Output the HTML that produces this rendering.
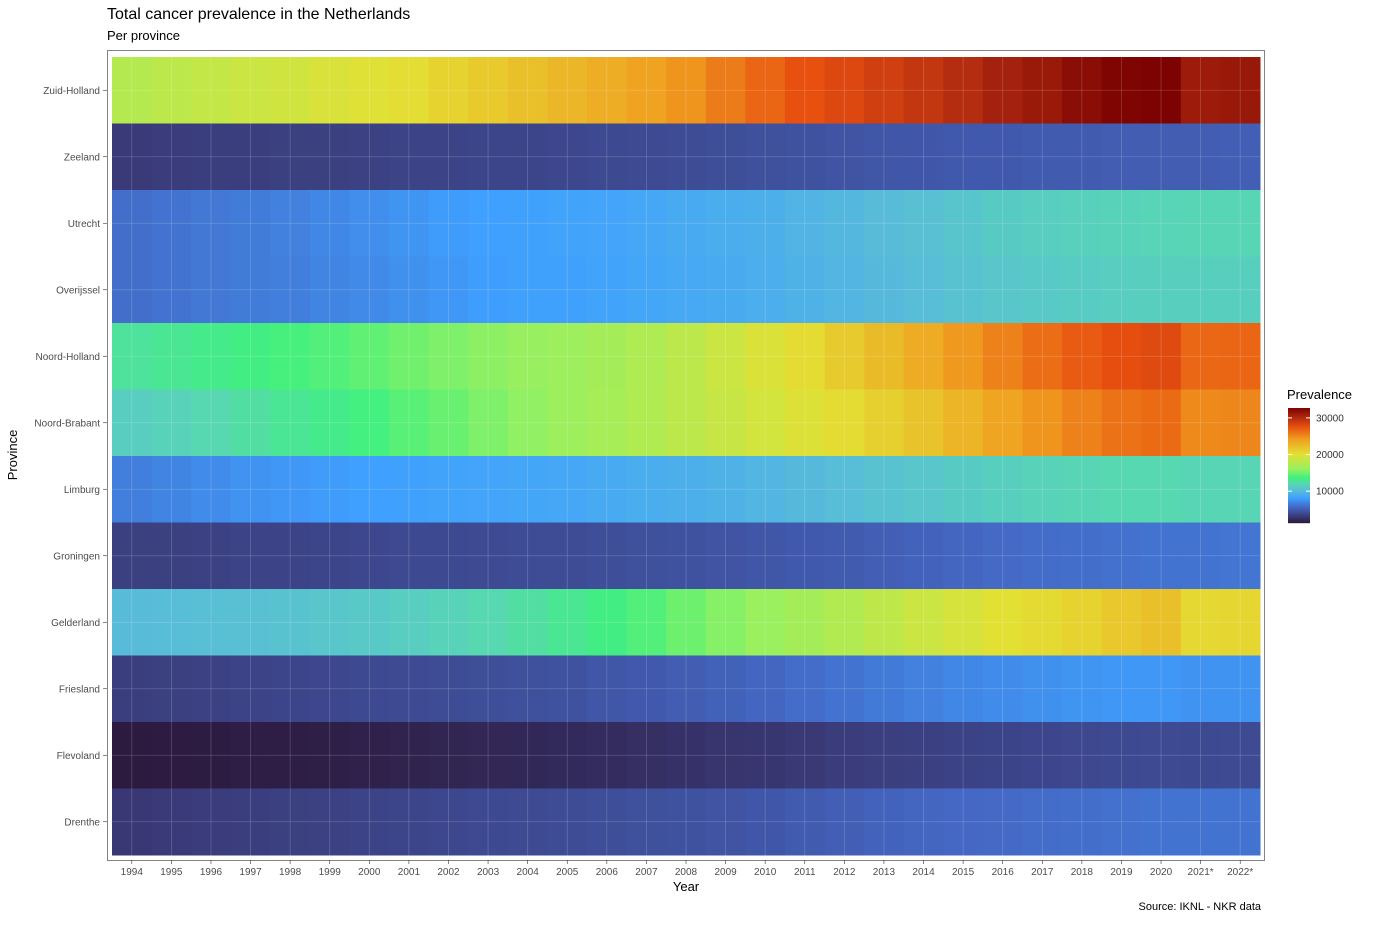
<!DOCTYPE html>
<html><head><meta charset="utf-8">
<style>
body{margin:0;background:#fff;font-family:"Liberation Sans",sans-serif;}
svg text{font-family:"Liberation Sans",sans-serif;}
</style></head>
<body>
<svg id="chart" width="1375" height="920" xmlns="http://www.w3.org/2000/svg">
<text x="107" y="19" font-size="16" fill="#000">Total cancer prevalence in the Netherlands</text>
<text x="107" y="40" font-size="13" fill="#000">Per province</text>
<g id="cells"></g>
<g id="grid"></g>
<rect x="107.5" y="50.5" width="1157" height="810" fill="none" stroke="#333" stroke-width="0.6"/>
<g id="xaxis"></g>
<g id="yaxis"></g>
<text x="686" y="891" font-size="13" text-anchor="middle">Year</text>
<text transform="translate(17,455) rotate(-90)" font-size="13" text-anchor="middle">Province</text>
<text x="1287" y="399" font-size="13">Prevalence</text>
<g id="legend"></g>
<text x="1261" y="910" font-size="11" text-anchor="end">Source: IKNL - NKR data</text>
</svg>
<script>
const years=["1994","1995","1996","1997","1998","1999","2000","2001","2002","2003","2004","2005","2006","2007","2008","2009","2010","2011","2012","2013","2014","2015","2016","2017","2018","2019","2020","2021*","2022*"];
const provinces=["Zuid-Holland","Zeeland","Utrecht","Overijssel","Noord-Holland","Noord-Brabant","Limburg","Groningen","Gelderland","Friesland","Flevoland","Drenthe"];
const zuidHolland=[17500,17900,18300,18700,19000,19400,19800,20200,20800,21400,22000,22600,23200,23800,24500,25600,26600,27500,28000,28600,29200,29800,30600,31100,31900,32500,32600,31000,31200];
const zeeland=[3000,3100,3200,3200,3300,3300,3400,3500,3500,3600,3600,3700,3800,3900,4000,4100,4200,4300,4400,4500,4600,4700,4700,4800,4800,4900,4900,4900,5000];
const utrecht=[5800,6000,6200,6400,6600,6900,7200,7500,7800,8000,8100,8200,8300,8500,8700,8900,9100,9400,9700,10000,10300,10600,11000,11200,11400,11600,11700,11800,11800];
const overijssel=[5800,6000,6200,6400,6500,6800,7000,7300,7600,7900,8100,8100,8200,8400,8600,8800,9000,9300,9500,9800,10100,10400,10700,10900,11100,11200,11300,11300,11300];
const noordHolland=[12600,12900,13200,13400,13700,14000,14400,14900,15300,15700,16000,16300,16700,17200,17900,18700,19500,20300,21300,22300,23300,24300,25300,26200,27000,27600,27900,26500,26600];
const noordBrabant=[11200,11600,12000,12400,12800,13200,13600,14200,14700,15300,15800,16300,16800,17300,17900,18500,19100,19700,20300,21000,21800,22700,23700,24500,25300,26000,26300,25000,25100];
const limburg=[6500,6800,7100,7400,7600,7800,8000,8100,8200,8300,8400,8500,8700,8900,9100,9300,9500,9800,10100,10400,10700,11000,11300,11600,11800,12000,12000,11800,11800];
const groningen=[3300,3300,3400,3500,3500,3600,3700,3800,3800,3900,4000,4000,4100,4200,4300,4400,4500,4700,4800,5000,5200,5400,5600,5700,5800,5900,6000,6000,6100];
const gelderland=[10000,10100,10200,10300,10500,10700,10900,11200,11600,12000,12400,12900,13400,14000,14800,15500,16100,16700,17400,18000,18700,19300,20000,20400,20800,21500,22000,20500,20600];
const friesland=[3200,3300,3400,3500,3600,3700,3800,3900,4000,4100,4200,4300,4500,4700,4900,5100,5400,5700,6000,6300,6600,6900,7100,7300,7500,7600,7600,7400,7400];
const flevoland=[1300,1350,1400,1450,1500,1550,1650,1750,1850,1950,2050,2150,2250,2400,2550,2700,2800,2950,3100,3250,3350,3450,3550,3650,3750,3850,3900,3850,3900];
const drenthe=[2900,3000,3100,3200,3300,3400,3500,3600,3700,3800,3900,4000,4100,4200,4300,4400,4600,4800,5000,5200,5400,5500,5600,5700,5800,5900,6000,6000,6000];
const legendTicks=[10000,20000,30000];
const series=[zuidHolland,zeeland,utrecht,overijssel,noordHolland,noordBrabant,limburg,groningen,gelderland,friesland,flevoland,drenthe];

const stopVals=[1000,3000,5500,8000,10000,12000,13500,16000,20000,24000,27500,30000,32800];
const stopCols=["#2a1535","#3a3a78","#4468c4","#3fa0ff","#58bcd8","#58d8b0","#40f080","#98f060","#e3e034","#f0a020","#e85010","#b02a10","#780000"];

const NS="http://www.w3.org/2000/svg";
const vMin=1300,vMax=32700;
const px0=112,px1=1260,py0=57,py1=855;
const cw=(px1-px0)/years.length, ch=(py1-py0)/provinces.length;
const xScale=i=>px0+i*cw;
const yScale=j=>py0+j*ch;
const hex=h=>[1,3,5].map(k=>parseInt(h.substr(k,2),16));
function color(v){
 if(v<=stopVals[0])return stopCols[0];
 for(let k=1;k<stopVals.length;k++){if(v<=stopVals[k]){const t=(v-stopVals[k-1])/(stopVals[k]-stopVals[k-1]);
  const a=hex(stopCols[k-1]),b=hex(stopCols[k]);
  return `rgb(${a.map((c,i)=>Math.round(c+(b[i]-c)*t)).join(',')})`;}}
 return stopCols[stopCols.length-1];}
function mk(tag,attrs,parent){const e=document.createElementNS(NS,tag);for(const k in attrs)e.setAttribute(k,attrs[k]);parent.appendChild(e);return e;}

const cells=document.getElementById('cells');
series.forEach((row,j)=>row.forEach((v,i)=>{
 const r=mk('rect',{x:xScale(i),y:yScale(j),width:cw+0.5,height:ch+0.5,fill:color(v)},cells);
 
 
}));
const grid=document.getElementById('grid');
years.forEach((y,i)=>{const l=mk('line',{x1:xScale(i)+cw/2,x2:xScale(i)+cw/2,y1:50,y2:860,stroke:'#fff','stroke-opacity':0.2,'stroke-width':0.8},grid);
 });
provinces.forEach((p,j)=>{const l=mk('line',{x1:107,x2:1264,y1:yScale(j)+ch/2,y2:yScale(j)+ch/2,stroke:'#fff','stroke-opacity':0.2,'stroke-width':0.8},grid);
 });
const xa=document.getElementById('xaxis');
years.forEach((y,i)=>{const x=xScale(i)+cw/2;
 const t=mk('line',{x1:x,x2:x,y1:860,y2:864,stroke:'#333','stroke-width':0.6},xa);
 
 const tx=mk('text',{x:x,y:875,'font-size':10,'text-anchor':'middle',fill:'#4d4d4d'},xa);tx.textContent=y;
 });
const ya=document.getElementById('yaxis');
provinces.forEach((p,j)=>{const y=yScale(j)+ch/2;
 const t=mk('line',{x1:103,x2:107,y1:y,y2:y,stroke:'#333','stroke-width':0.6},ya);
 
 const tx=mk('text',{x:100,y:y+3.5,'font-size':10,'text-anchor':'end',fill:'#4d4d4d'},ya);tx.textContent=p;
 });
const lg=document.getElementById('legend');
const lb0=408,lb1=523,lx=1288,lw=22;
const ly=v=>lb1-(v-vMin)/(vMax-vMin)*(lb1-lb0);
for(let k=0;k<115;k++){const v=vMin+(vMax-vMin)*(k/115);
 const s=mk('rect',{x:lx,y:ly(v)-1,width:lw,height:1.2,fill:color(v)},lg);
 }
legendTicks.forEach(v=>{const y=ly(v);
 const a=mk('line',{x1:lx,x2:lx+4,y1:y,y2:y,stroke:'#fff'},lg);
 const b=mk('line',{x1:lx+lw-4,x2:lx+lw,y1:y,y2:y,stroke:'#fff'},lg);
 const tx=mk('text',{x:lx+lw+6,y:y+3.5,'font-size':10,fill:'#333'},lg);tx.textContent=v;
 });
</script>
</body></html>
